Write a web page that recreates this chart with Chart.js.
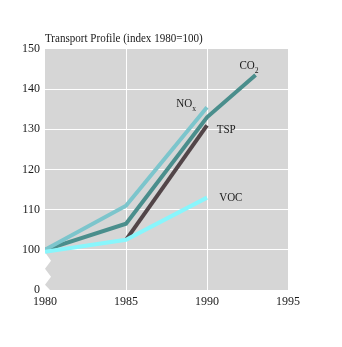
<!DOCTYPE html>
<html>
<head>
<meta charset="utf-8">
<script src="https://cdn.jsdelivr.net/npm/chart.js@4/dist/chart.umd.min.js"></script>
<style>
  html, body { margin: 0; padding: 0; background: #fff; }
  #wrap { width: 342px; height: 347px; }
</style>
</head>
<body>
<div id="wrap"><canvas id="chart" width="342" height="347"></canvas></div>
<script>
const years = [1980, 1985, 1990, 1993];
const noxValues = [100, 111, 135.5];
const co2Values = [100, 106.5, 133, 143.5];
const tspYears = [1985, 1990];
const tspValues = [102.5, 131];
const vocValues = [99.5, 102.5, 113];
const xTicks = [1980, 1985, 1990, 1995];
const yTicks = [90, 100, 110, 120, 130, 140, 150];
const yTickLabels = ["0", "100", "110", "120", "130", "140", "150"];

const title = "Transport Profile (index 1980=100)";
const FONT = "'Liberation Serif', 'Times New Roman', serif";
const SQUEEZE = 0.85; // reference type is a narrow serif

// series labels: [main, subscript, x, y] in data units
const seriesLabels = [
  ["CO", "2", 1992.0, 145.8],
  ["NO", "x", 1988.1, 136.3],
  ["TSP", "", 1990.6, 129.9],
  ["VOC", "", 1990.75, 112.9],
];

const pts = (xs, ys) => ys.map((v, i) => ({ x: xs[i], y: v }));

// draw narrow text at (x, y), returns drawn width
function narrowText(ctx, text, x, y, size) {
  ctx.save();
  ctx.font = size + "px " + FONT;
  ctx.translate(x, y);
  ctx.scale(SQUEEZE, 1);
  ctx.fillText(text, 0, 0);
  const w = ctx.measureText(text).width * SQUEEZE;
  ctx.restore();
  return w;
}

const backdrop = {
  id: "backdrop",
  beforeDraw(chart) {
    const { ctx, chartArea: a, scales } = chart;
    ctx.save();
    ctx.fillStyle = "#d6d6d6";
    ctx.fillRect(a.left, a.top, a.right - a.left, a.bottom - a.top);
    // broken axis zigzag
    const y0 = scales.y.getPixelForValue(100);
    const h = a.bottom - y0;
    const L = a.left;
    ctx.fillStyle = "#fff";
    ctx.beginPath();
    ctx.moveTo(L, y0 + h * 0.06);
    ctx.lineTo(L + 6, y0 + h * 0.27);
    ctx.lineTo(L, y0 + h * 0.47);
    ctx.lineTo(L + 6, y0 + h * 0.67);
    ctx.lineTo(L, y0 + h * 0.87);
    ctx.lineTo(L + 5, a.bottom);
    ctx.lineTo(L, a.bottom);
    ctx.closePath();
    ctx.fill();
    ctx.restore();
  },
  afterDraw(chart) {
    const { ctx, chartArea: a, scales } = chart;
    ctx.save();
    ctx.fillStyle = "#1a1a1a";
    ctx.textBaseline = "middle";
    ctx.textAlign = "left";
    narrowText(ctx, title, a.left, 39, 13);
    seriesLabels.forEach(([main, sub, xv, yv]) => {
      const px = scales.x.getPixelForValue(xv);
      const py = scales.y.getPixelForValue(yv);
      const w = narrowText(ctx, main, px, py, 13);
      if (sub) narrowText(ctx, sub, px + w, py + 5, 9);
    });
    ctx.restore();
  },
};

const line = (data, color) => ({
  data,
  borderColor: color,
  borderWidth: 4,
  pointRadius: 0,
  tension: 0,
  fill: false,
});

new Chart(document.getElementById("chart"), {
  type: "line",
  data: {
    datasets: [
      line(pts(years, vocValues), "#88f6fc"),
      line(pts(years, noxValues), "#7cc5cc"),
      line(pts(years, co2Values), "#4a8e8c"),
      line(pts(tspYears, tspValues), "#524548"),
    ],
  },
  options: {
    responsive: false,
    animation: false,
    layout: { padding: { top: 49, left: 0, right: 54, bottom: 30 } },
    plugins: { legend: { display: false }, tooltip: { enabled: false } },
    scales: {
      x: {
        type: "linear",
        min: 1980,
        max: 1995,
        afterFit: (s) => { s.height = 27; },
        afterBuildTicks: (s) => { s.ticks = xTicks.map((v) => ({ value: v })); },
        border: { display: false },
        grid: {
          drawTicks: false,
          color: (c) => (c.tick && (c.tick.value === 1985 || c.tick.value === 1990) ? "#fff" : "rgba(0,0,0,0)"),
          lineWidth: 1,
        },
        ticks: {
          padding: 5,
          color: "#1a1a1a",
          font: { family: FONT, size: 12 },
          maxRotation: 0,
          callback: (v) => String(v),
        },
      },
      y: {
        min: 90,
        max: 150,
        afterFit: (s) => { s.width = 45; },
        afterBuildTicks: (s) => { s.ticks = yTicks.map((v) => ({ value: v })); },
        border: { display: false },
        grid: {
          drawTicks: false,
          color: (c) => (c.tick && c.tick.value > 90 && c.tick.value < 150 ? "#fff" : "rgba(0,0,0,0)"),
          lineWidth: 1,
        },
        ticks: {
          padding: 5,
          color: "#1a1a1a",
          font: { family: FONT, size: 12 },
          callback: (v) => yTickLabels[yTicks.indexOf(v)],
        },
      },
    },
  },
  plugins: [backdrop],
});
</script>
</body>
</html>
